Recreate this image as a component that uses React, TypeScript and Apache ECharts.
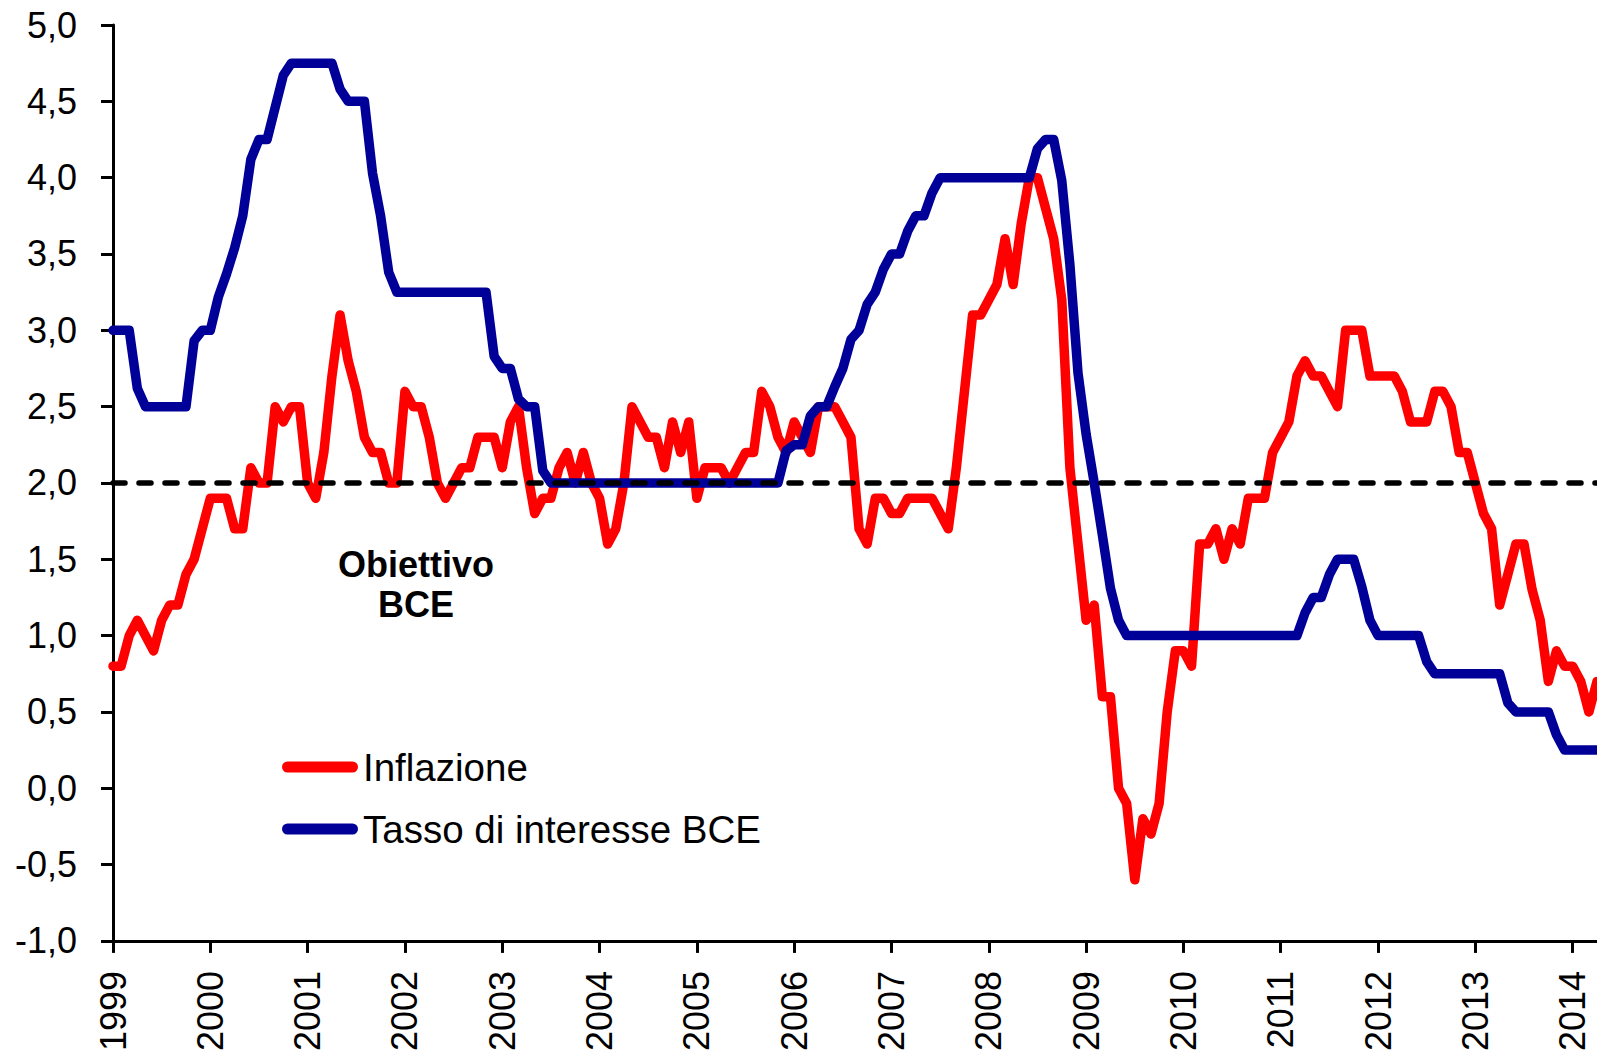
import React, { useEffect, useRef } from "react";
import * as echarts from "echarts";

// Years shown on the x axis (monthly data from Jan 1999 to Apr 2014)
const YEARS = [1999, 2000, 2001, 2002, 2003, 2004, 2005, 2006, 2007, 2008, 2009, 2010, 2011, 2012, 2013, 2014];
const MONTHS_IN_LAST_YEAR = 4;

// Y axis ticks
const Y_MIN = -1;
const Y_MAX = 5;
const Y_STEP = 0.5;

// ECB inflation target
const TARGET = 2.0;

// Inflazione (annual HICP rate, %), one row per year
const inflation = [
  0.8, 0.8, 1.0, 1.1, 1.0, 0.9, 1.1, 1.2, 1.2, 1.4, 1.5, 1.7, // 1999
  1.9, 1.9, 1.9, 1.7, 1.7, 2.1, 2.0, 2.0, 2.5, 2.4, 2.5, 2.5, // 2000
  2.0, 1.9, 2.2, 2.7, 3.1, 2.8, 2.6, 2.3, 2.2, 2.2, 2.0, 2.0, // 2001
  2.6, 2.5, 2.5, 2.3, 2.0, 1.9, 2.0, 2.1, 2.1, 2.3, 2.3, 2.3, // 2002
  2.1, 2.4, 2.5, 2.1, 1.8, 1.9, 1.9, 2.1, 2.2, 2.0, 2.2, 2.0, // 2003
  1.9, 1.6, 1.7, 2.0, 2.5, 2.4, 2.3, 2.3, 2.1, 2.4, 2.2, 2.4, // 2004
  1.9, 2.1, 2.1, 2.1, 2.0, 2.1, 2.2, 2.2, 2.6, 2.5, 2.3, 2.2, // 2005
  2.4, 2.3, 2.2, 2.5, 2.5, 2.5, 2.4, 2.3, 1.7, 1.6, 1.9, 1.9, // 2006
  1.8, 1.8, 1.9, 1.9, 1.9, 1.9, 1.8, 1.7, 2.1, 2.6, 3.1, 3.1, // 2007
  3.2, 3.3, 3.6, 3.3, 3.7, 4.0, 4.0, 3.8, 3.6, 3.2, 2.1, 1.6, // 2008
  1.1, 1.2, 0.6, 0.6, 0.0, -0.1, -0.6, -0.2, -0.3, -0.1, 0.5, 0.9, // 2009
  0.9, 0.8, 1.6, 1.6, 1.7, 1.5, 1.7, 1.6, 1.9, 1.9, 1.9, 2.2, // 2010
  2.3, 2.4, 2.7, 2.8, 2.7, 2.7, 2.6, 2.5, 3.0, 3.0, 3.0, 2.7, // 2011
  2.7, 2.7, 2.7, 2.6, 2.4, 2.4, 2.4, 2.6, 2.6, 2.5, 2.2, 2.2, // 2012
  2.0, 1.8, 1.7, 1.2, 1.4, 1.6, 1.6, 1.3, 1.1, 0.7, 0.9, 0.8, // 2013
  0.8, 0.7, 0.5, 0.7, // 2014
];

// Tasso di interesse BCE (monthly average, %), one row per year
const ecbRate = [
  3.0, 3.0, 3.0, 2.62, 2.5, 2.5, 2.5, 2.5, 2.5, 2.5, 2.93, 3.0, // 1999
  3.0, 3.22, 3.37, 3.54, 3.75, 4.12, 4.25, 4.25, 4.46, 4.67, 4.75, 4.75, // 2000
  4.75, 4.75, 4.75, 4.75, 4.58, 4.5, 4.5, 4.5, 4.03, 3.75, 3.38, 3.25, // 2001
  3.25, 3.25, 3.25, 3.25, 3.25, 3.25, 3.25, 3.25, 3.25, 3.25, 3.25, 2.83, // 2002
  2.75, 2.75, 2.55, 2.5, 2.5, 2.08, 2.0, 2.0, 2.0, 2.0, 2.0, 2.0, // 2003
  2.0, 2.0, 2.0, 2.0, 2.0, 2.0, 2.0, 2.0, 2.0, 2.0, 2.0, 2.0, // 2004
  2.0, 2.0, 2.0, 2.0, 2.0, 2.0, 2.0, 2.0, 2.0, 2.0, 2.0, 2.21, // 2005
  2.25, 2.25, 2.44, 2.5, 2.5, 2.63, 2.75, 2.94, 3.0, 3.17, 3.25, 3.4, // 2006
  3.5, 3.5, 3.65, 3.75, 3.75, 3.9, 4.0, 4.0, 4.0, 4.0, 4.0, 4.0, // 2007
  4.0, 4.0, 4.0, 4.0, 4.0, 4.0, 4.19, 4.25, 4.25, 3.98, 3.43, 2.72, // 2008
  2.32, 2.0, 1.66, 1.31, 1.1, 1.0, 1.0, 1.0, 1.0, 1.0, 1.0, 1.0, // 2009
  1.0, 1.0, 1.0, 1.0, 1.0, 1.0, 1.0, 1.0, 1.0, 1.0, 1.0, 1.0, // 2010
  1.0, 1.0, 1.0, 1.15, 1.25, 1.25, 1.4, 1.5, 1.5, 1.5, 1.32, 1.1, // 2011
  1.0, 1.0, 1.0, 1.0, 1.0, 1.0, 0.83, 0.75, 0.75, 0.75, 0.75, 0.75, // 2012
  0.75, 0.75, 0.75, 0.75, 0.56, 0.5, 0.5, 0.5, 0.5, 0.5, 0.35, 0.25, // 2013
  0.25, 0.25, 0.25, 0.25, // 2014
];

const SERIES_NAMES = ["Inflazione", "Tasso di interesse BCE"];
const ANNOTATION = "Obiettivo\nBCE";

// Monthly categories "YYYY-MM"
const categories: string[] = [];
YEARS.forEach((y, yi) => {
  const n = yi === YEARS.length - 1 ? MONTHS_IN_LAST_YEAR : 12;
  for (let m = 1; m <= n; m++) categories.push(`${y}-${String(m).padStart(2, "0")}`);
});

const FONT = '"Liberation Sans", Arial, Helvetica, sans-serif';
const RED = "#FF0000";
const BLUE = "#000099";

export default function App() {
  const ref = useRef<HTMLDivElement>(null);

  useEffect(() => {
    if (!ref.current) return;
    const chart = echarts.init(ref.current, undefined, { renderer: "svg" });
    const isJan = (i: number) => i % 12 === 0;

    const option: any = {
      animation: false,
      backgroundColor: "#ffffff",
      grid: { left: 113, right: 0, top: 25, bottom: 113, containLabel: false },
      xAxis: {
        type: "category",
        data: categories,
        boundaryGap: false,
        axisLine: { show: true, onZero: false, lineStyle: { color: "#000", width: 3 } },
        axisTick: { show: true, length: 12, interval: isJan, lineStyle: { color: "#000", width: 3 } },
        axisLabel: {
          interval: isJan,
          rotate: 90,
          margin: 30,
          formatter: (v: string) => v.slice(0, 4),
          fontSize: 36,
          fontFamily: FONT,
          color: "#000",
          padding: [10, 0, 0, 0],
        },
        splitLine: { show: false },
      },
      yAxis: {
        type: "value",
        min: Y_MIN,
        max: Y_MAX,
        interval: Y_STEP,
        axisLine: { show: true, lineStyle: { color: "#000", width: 3 } },
        axisTick: { show: true, length: 12, lineStyle: { color: "#000", width: 3 } },
        axisLabel: {
          margin: 36,
          formatter: (v: number) => v.toFixed(1).replace(".", ","),
          fontSize: 36,
          fontFamily: FONT,
          color: "#000",
        },
        splitLine: { show: false },
      },
      legend: {
        orient: "vertical",
        left: 277,
        top: 742,
        data: SERIES_NAMES,
        itemWidth: 76,
        itemHeight: 11,
        itemGap: 22,
        icon: "path://M5.5,0 L70.5,0 A5.5,5.5 0 0 1 70.5,11 L5.5,11 A5.5,5.5 0 0 1 5.5,0 Z",
        textStyle: { fontSize: 38.5, fontFamily: FONT, color: "#000", lineHeight: 40 },
      },
      series: [
        {
          name: SERIES_NAMES[0],
          type: "line",
          data: inflation,
          showSymbol: false,
          symbol: "none",
          z: 2,
          itemStyle: { color: RED },
          lineStyle: { color: RED, width: 9.5, cap: "round", join: "round" },
        },
        {
          name: "target",
          type: "line",
          data: [],
          z: 3,
          markLine: {
            silent: true,
            symbol: "none",
            label: { show: false },
            data: [{ yAxis: TARGET }],
            lineStyle: { color: "#000", width: 5.5, type: [12, 14], cap: "round" },
          },
        },
        {
          name: SERIES_NAMES[1],
          type: "line",
          data: ecbRate,
          showSymbol: false,
          symbol: "none",
          z: 4,
          itemStyle: { color: BLUE },
          lineStyle: { color: BLUE, width: 9.5, cap: "round", join: "round" },
        },
      ],
      graphic: [
        {
          type: "text",
          x: 416,
          y: 544,
          z: 10,
          style: {
            text: ANNOTATION,
            fontSize: 36,
            fontWeight: "bold",
            fontFamily: FONT,
            align: "center",
            verticalAlign: "top",
            lineHeight: 40,
            fill: "#000",
          },
        },
      ],
    };

    chart.setOption(option);
    return () => chart.dispose();
  }, []);

  return (
    <div
      ref={ref}
      style={{ position: "absolute", left: 0, top: 0, width: 1597, height: 1054, background: "#fff" }}
    />
  );
}
